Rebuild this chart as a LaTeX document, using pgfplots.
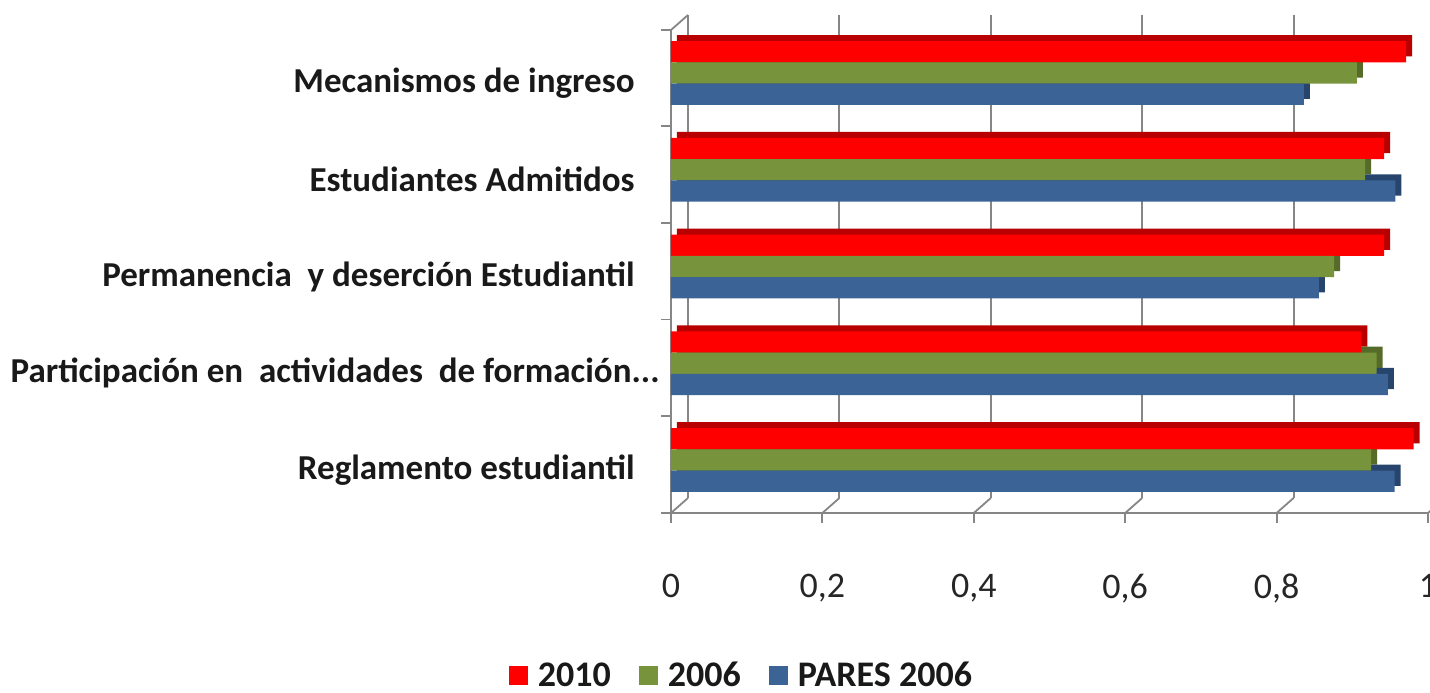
\documentclass[border=0pt]{standalone}
\usepackage{fontspec}
\setmainfont{Carlito}
\usepackage{pgfplots}
\pgfplotsset{compat=1.18}
\definecolor{cred}{HTML}{FF0000}
\definecolor{cred2}{HTML}{B80000}
\definecolor{cgreen}{HTML}{77933C}
\definecolor{cgreen2}{HTML}{566B29}
\definecolor{cblue}{HTML}{3B6396}
\definecolor{cblue2}{HTML}{27456C}
\definecolor{axgray}{HTML}{868686}
\pgfplotsset{sqlegend/.style={legend image code/.code={\fill[##1] (0pt,-4.75pt) rectangle (9.5pt,4.75pt);}}}
\begin{document}
\begin{tikzpicture}
\path[use as bounding box] (0,0) rectangle (715pt,346pt);
\begin{axis}[
  at={(335.5pt,89.5pt)}, anchor=south west,
  width=378.5pt, height=241.5pt, scale only axis,
  clip=false,
  xmin=0, xmax=1, ymin=-0.548, ymax=4.445,
  xbar, bar width=0.22,
  axis x line*=bottom, axis y line*=left,
  axis line style={axgray, line width=0.9pt},
  xtick={0,0.2,0.4,0.6,0.8,1},
  tick align=outside, major tick length=5pt,
  xtick style={axgray, line width=0.9pt},
  ytick={0,1,2,3,4},
  ytick style={draw=none},
  yticklabels={{Reglamento estudiantil}, {Participación en\ \ actividades\ \ de formación.{}.{}.\kern-12.5pt}, {Permanencia\ \ y deserción Estudiantil}, {Estudiantes Admitidos}, {Mecanismos de ingreso}},
  yticklabel style={font=\bfseries\fontsize{17.5pt}{21pt}\selectfont, text=black!90, inner sep=0pt, anchor=east, xshift=-13pt, yshift=-5pt},
  xticklabel style={font=\fontsize{18pt}{21pt}\selectfont, text=black!85, anchor=north, yshift=-22pt},
  /pgf/number format/.cd, use comma, assume math mode=true, /pgfplots/.cd,
  xmajorgrids,
  x grid style={axgray, line width=0.9pt, xshift=8.5pt, yshift=7.5pt},
  legend columns=3,
  legend style={at={(axis description cs:0.0938,-0.337)}, anchor=center, draw=none, fill=none,
    font=\bfseries\fontsize{18pt}{21pt}\selectfont, text=black!90,
    nodes={inner sep=1.5pt},
    /tikz/every even column/.append style={column sep=12.5pt},
    /tikz/every odd column/.append style={column sep=3.5pt}},
]
% floor and wall edges
\pgfplotsinvokeforeach{0,0.2,0.4,0.6,0.8,1}{\draw[axgray, line width=0.9pt] (axis cs:#1,-0.548) -- ++(8.5pt,7.5pt);}
\draw[axgray, line width=0.9pt] (axis cs:0,4.445) -- ++(8.5pt,7.5pt);
\pgfplotsinvokeforeach{-0.548,0.452,1.452,2.452,3.452,4.445}{\draw[axgray, line width=0.9pt] (axis cs:0,#1) -- ++(-5pt,0pt);}
% depth faces
\addplot[xbar, fill=cred2, draw=none, bar shift=0.22, xshift=3pt, yshift=3pt, forget plot]
  coordinates {(0.971,4) (0.942,3) (0.942,2) (0.912,1) (0.981,0)};
\addplot[xbar, fill=cgreen2, draw=none, bar shift=0, xshift=3pt, yshift=3pt, forget plot]
  coordinates {(0.906,4) (0.917,3) (0.876,2) (0.932,1) (0.925,0)};
\addplot[xbar, fill=cblue2, draw=none, bar shift=-0.22, xshift=3pt, yshift=3pt, forget plot]
  coordinates {(0.836,4) (0.957,3) (0.856,2) (0.947,1) (0.956,0)};
% front faces
\addplot[xbar, fill=cred, draw=none, bar shift=0.22, sqlegend]
  coordinates {(0.971,4) (0.942,3) (0.942,2) (0.912,1) (0.981,0)};
\addlegendentry{2010}
\addplot[xbar, fill=cgreen, draw=none, bar shift=0, sqlegend]
  coordinates {(0.906,4) (0.917,3) (0.876,2) (0.932,1) (0.925,0)};
\addlegendentry{2006}
\addplot[xbar, fill=cblue, draw=none, bar shift=-0.22, sqlegend]
  coordinates {(0.836,4) (0.957,3) (0.856,2) (0.947,1) (0.956,0)};
\addlegendentry{PARES 2006}
\end{axis}
\end{tikzpicture}
\end{document}
